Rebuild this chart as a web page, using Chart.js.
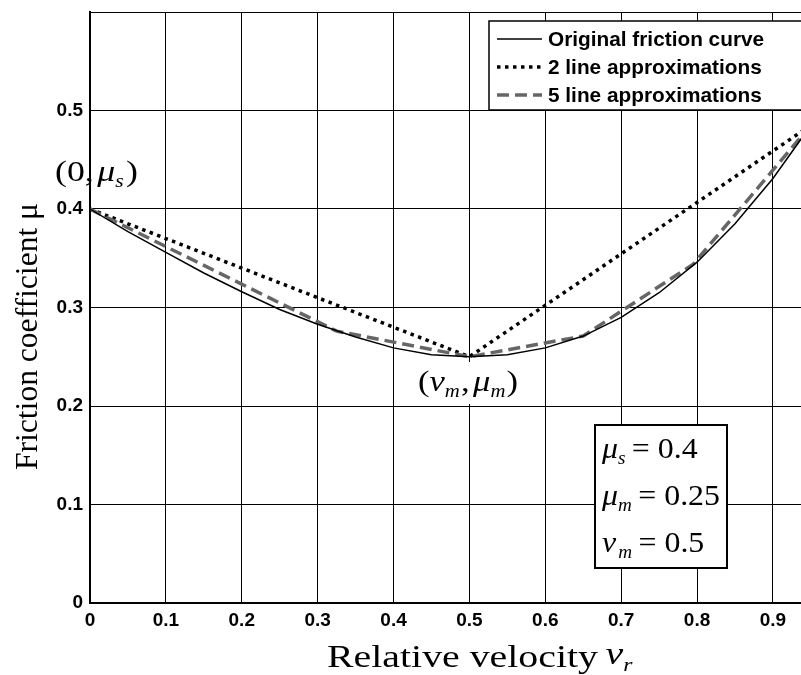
<!DOCTYPE html>
<html>
<head>
<meta charset="utf-8">
<script src="https://cdn.jsdelivr.net/npm/chart.js@4.4.0/dist/chart.umd.min.js"></script>
<style>
html,body{margin:0;padding:0;background:#fff;}
#wrap{width:801px;height:675px;position:relative;}
</style>
</head>
<body>
<div id="wrap"><canvas id="c" width="801" height="675" style="width:801px;height:675px"></canvas></div>
<script>
// ---- data ----
const origVelocity = [0, 0, 0.05, 0.1, 0.15, 0.2, 0.25, 0.3, 0.35, 0.4, 0.45, 0.5, 0.55, 0.6, 0.65, 0.7, 0.75, 0.8, 0.85, 0.9, 0.95];
const origFriction = [0, 0.400, 0.377, 0.356, 0.335, 0.316, 0.298, 0.283, 0.270, 0.259, 0.252, 0.250, 0.252, 0.259, 0.271, 0.290, 0.315, 0.346, 0.385, 0.431, 0.485];
const twoLineVelocity = [0, 0.5, 0.95];
const twoLineFriction = [0.4, 0.25, 0.485];
const fiveLineVelocity = [0, 0.325, 0.5, 0.65, 0.795, 0.95];
const fiveLineFriction = [0.4, 0.276, 0.25, 0.271, 0.344, 0.485];
const xTickValues = [0, 0.1, 0.2, 0.3, 0.4, 0.5, 0.6, 0.7, 0.8, 0.9];
const xTickLabels = ['0', '0.1', '0.2', '0.3', '0.4', '0.5', '0.6', '0.7', '0.8', '0.9'];
const yTickValues = [0, 0.1, 0.2, 0.3, 0.4, 0.5, 0.6];
const yTickLabels = ['0', '0.1', '0.2', '0.3', '0.4', '0.5', ''];
const seriesNames = ['Original friction curve', '2 line approximations', '5 line approximations'];

const toPts = (xs, ys) => xs.map((x, i) => ({x: x, y: ys[i]}));

const SERIF = '"Liberation Serif", "Times New Roman", serif';
const SANS = '"Liberation Sans", Arial, sans-serif';

const styles = [
  {color: '#000000', width: 1.5, dash: []},
  {color: '#000000', width: 3.5, dash: [3.5, 4.5]},
  {color: '#666666', width: 3.5, dash: [12, 6]}
];

function runsWidth(ctx, runs) {
  let w = 0;
  for (const r of runs) { ctx.font = r.f; w += ctx.measureText(r.t).width + (r.gap || 0); }
  return w;
}
function drawRuns(ctx, x, y, runs, sx) {
  ctx.save();
  ctx.translate(x, y);
  ctx.scale(sx, 1);
  ctx.textBaseline = 'alphabetic';
  ctx.textAlign = 'left';
  ctx.fillStyle = '#000';
  let cx = 0;
  for (const r of runs) {
    ctx.font = r.f;
    ctx.fillText(r.t, cx, r.dy || 0);
    cx += ctx.measureText(r.t).width + (r.gap || 0);
  }
  ctx.restore();
}

const annotPlugin = {
  id: 'annot',
  afterDraw(chart) {
    const ctx = chart.ctx;
    const up = '30px ' + SERIF, it = 'italic 30px ' + SERIF, sub = 'italic 18px ' + SERIF;

    // (v_m, mu_m) label with white background
    ctx.save();
    ctx.fillStyle = '#fff';
    ctx.fillRect(414, 362, 108, 42);
    ctx.restore();
    const vmRuns = [
      {t: '(', f: up}, {t: 'v', f: it}, {t: 'm', f: sub, dy: 6, gap: 1}, {t: ',', f: up, gap: 3},
      {t: 'μ', f: it}, {t: 'm', f: sub, dy: 6, gap: 1}, {t: ')', f: up}
    ];
    drawRuns(ctx, 418, 391, vmRuns, 100 / runsWidth(ctx, vmRuns));

    // (0, mu_s)
    const msRuns = [
      {t: '(0,', f: up, gap: 3}, {t: 'μ', f: it}, {t: 's', f: sub, dy: 6, gap: 2}, {t: ')', f: up}
    ];
    drawRuns(ctx, 55, 181, msRuns, 83 / runsWidth(ctx, msRuns));

    // parameter box
    ctx.save();
    ctx.fillStyle = '#fff';
    ctx.fillRect(595, 425, 132, 143);
    ctx.strokeStyle = '#000';
    ctx.lineWidth = 2;
    ctx.strokeRect(595, 425, 132, 143);
    ctx.restore();
    const l1 = [{t: 'μ', f: it}, {t: 's', f: sub, dy: 6, gap: 6}, {t: '= 0.4', f: up}];
    const l2 = [{t: 'μ', f: it}, {t: 'm', f: sub, dy: 6, gap: 6}, {t: '= 0.25', f: up}];
    const l3 = [{t: 'v', f: it, gap: 2}, {t: 'm', f: sub, dy: 6, gap: 6}, {t: '= 0.5', f: up}];
    const bsx = 118 / runsWidth(ctx, l2);
    drawRuns(ctx, 602, 458, l1, bsx);
    drawRuns(ctx, 602, 505, l2, bsx);
    drawRuns(ctx, 602, 552, l3, bsx);

    // x axis title
    const xtRuns = [{t: 'Relative velocity', f: '32px ' + SERIF, gap: 6}, {t: 'v', f: 'italic 32px ' + SERIF, dy: -3}, {t: 'r', f: 'italic 19px ' + SERIF, dy: 4}];
    ctx.font = '32px ' + SERIF;
    const xsx = 271 / ctx.measureText('Relative velocity').width;
    drawRuns(ctx, 327, 667, xtRuns, xsx);

    // y axis title (rotated)
    ctx.save();
    ctx.translate(37, 470);
    ctx.rotate(-Math.PI / 2);
    const ytRuns = [{t: 'Friction coefficient μ', f: '32px ' + SERIF}];
    drawRuns(ctx, 0, 0, ytRuns, 267 / runsWidth(ctx, ytRuns));
    ctx.restore();

    // legend box
    ctx.save();
    ctx.fillStyle = '#fff';
    ctx.fillRect(489, 21, 320, 89);
    ctx.strokeStyle = '#000';
    ctx.lineWidth = 1.5;
    ctx.strokeRect(489, 21, 320, 89);
    const rows = [39, 67, 95];
    ctx.font = 'bold 20.8px ' + SANS;
    ctx.textBaseline = 'middle';
    ctx.textAlign = 'left';
    for (let i = 0; i < 3; i++) {
      ctx.beginPath();
      ctx.strokeStyle = styles[i].color;
      ctx.lineWidth = styles[i].width;
      ctx.setLineDash(styles[i].dash);
      ctx.moveTo(497, rows[i]);
      ctx.lineTo(542, rows[i]);
      ctx.stroke();
      ctx.setLineDash([]);
      ctx.fillStyle = '#000';
      ctx.fillText(seriesNames[i], 548, rows[i] + 1);
    }
    ctx.restore();
  }
};

const datasets = [
  {label: seriesNames[0], data: toPts(origVelocity, origFriction), order: 0},
  {label: seriesNames[1], data: toPts(twoLineVelocity, twoLineFriction), order: 2},
  {label: seriesNames[2], data: toPts(fiveLineVelocity, fiveLineFriction), order: 1}
].map((d, i) => Object.assign(d, {
  showLine: true, pointRadius: 0, pointHoverRadius: 0, fill: false, tension: 0,
  borderColor: styles[i].color, borderWidth: styles[i].width, borderDash: styles[i].dash,
  borderCapStyle: 'butt', borderJoinStyle: 'miter'
}));

new Chart(document.getElementById('c'), {
  type: 'scatter',
  data: {datasets: datasets},
  options: {
    responsive: false,
    animation: false,
    devicePixelRatio: 1,
    layout: {padding: {top: 12, right: 0, left: 0, bottom: 0}},
    plugins: {legend: {display: false}, tooltip: {enabled: false}, title: {display: false}},
    scales: {
      x: {
        type: 'linear', min: 0, max: 0.937,
        afterBuildTicks: s => { s.ticks = xTickValues.map(v => ({value: v})); },
        afterFit: s => { s.height = 72; s.paddingLeft = 0; s.paddingRight = 0; },
        ticks: {
          callback: (v, i) => xTickLabels[i],
          font: {family: SANS, size: 19, weight: 'bold'}, color: '#000', padding: 6, maxRotation: 0, autoSkip: false
        },
        grid: {color: '#000', lineWidth: 1, drawTicks: false},
        border: {display: true, color: '#000', width: 2}
      },
      y: {
        type: 'linear', min: 0, max: 0.6,
        afterBuildTicks: s => { s.ticks = yTickValues.map(v => ({value: v})); },
        afterFit: s => { s.width = 90; s.paddingTop = 0; s.paddingBottom = 0; },
        ticks: {
          callback: (v, i) => yTickLabels[i],
          font: {family: SANS, size: 19, weight: 'bold'}, color: '#000', padding: 7, autoSkip: false
        },
        grid: {color: '#000', lineWidth: 1, drawTicks: false},
        border: {display: true, color: '#000', width: 2}
      }
    }
  },
  plugins: [annotPlugin]
});
</script>
</body>
</html>
